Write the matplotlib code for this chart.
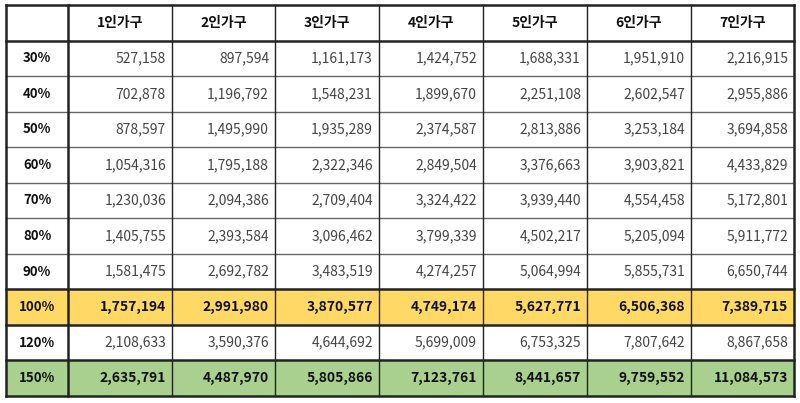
import matplotlib.pyplot as plt
from matplotlib.patches import Rectangle

plt.rcParams['font.family'] = ['Noto Sans CJK KR', 'DejaVu Sans']

# Table data
col_labels = ["1인가구", "2인가구", "3인가구", "4인가구", "5인가구", "6인가구", "7인가구"]
row_labels = ["30%", "40%", "50%", "60%", "70%", "80%", "90%", "100%", "120%", "150%"]
values = [
    [527158, 897594, 1161173, 1424752, 1688331, 1951910, 2216915],
    [702878, 1196792, 1548231, 1899670, 2251108, 2602547, 2955886],
    [878597, 1495990, 1935289, 2374587, 2813886, 3253184, 3694858],
    [1054316, 1795188, 2322346, 2849504, 3376663, 3903821, 4433829],
    [1230036, 2094386, 2709404, 3324422, 3939440, 4554458, 5172801],
    [1405755, 2393584, 3096462, 3799339, 4502217, 5205094, 5911772],
    [1581475, 2692782, 3483519, 4274257, 5064994, 5855731, 6650744],
    [1757194, 2991980, 3870577, 4749174, 5627771, 6506368, 7389715],
    [2108633, 3590376, 4644692, 5699009, 6753325, 7807642, 8867658],
    [2635791, 4487970, 5805866, 7123761, 8441657, 9759552, 11084573],
]
highlight = {"100%": "#FFD966", "150%": "#A9D08E"}

# layout in pixels
x_edges = [6, 68, 172, 275, 379, 483, 587, 691, 794]
top, bottom = 5, 396
n_rows = len(row_labels) + 1
row_h = (bottom - top) / n_rows
y_edges = [top + i * row_h for i in range(n_rows + 1)]

fig = plt.figure(figsize=(8, 4.03), dpi=100)
ax = fig.add_axes([0, 0, 1, 1])
ax.set_xlim(0, 800)
ax.set_ylim(403, 0)
ax.axis('off')

# row backgrounds
for i, lab in enumerate(row_labels):
    if lab in highlight:
        y0 = y_edges[i + 1]
        ax.add_patch(Rectangle((x_edges[0], y0), x_edges[-1] - x_edges[0], row_h,
                               facecolor=highlight[lab], edgecolor='none', zorder=0))

# header
for j, c in enumerate(col_labels):
    xc = (x_edges[j + 1] + x_edges[j + 2]) / 2
    ax.text(xc, (y_edges[0] + y_edges[1]) / 2, c, ha='center', va='center',
            fontsize=10, fontweight='bold', color='#111111')

# body
for i, lab in enumerate(row_labels):
    yc = (y_edges[i + 1] + y_edges[i + 2]) / 2
    bold = lab in highlight
    ax.text((x_edges[0] + x_edges[1]) / 2, yc, lab, ha='center', va='center',
            fontsize=9.5, fontweight='bold', color='#111111')
    for j, v in enumerate(values[i]):
        ax.text(x_edges[j + 2] - 6, yc, f"{v:,}", ha='right', va='center',
                fontsize=10, fontweight='bold' if bold else 'normal',
                color='#111111' if bold else '#444444')

# grid lines
for k, y in enumerate(y_edges):
    lab_above = row_labels[k - 2] if k >= 2 else None
    lab_below = row_labels[k - 1] if 1 <= k <= len(row_labels) else None
    thick = k in (0, 1, n_rows) or lab_above in highlight or lab_below in highlight
    ax.plot([x_edges[0], x_edges[-1]], [y, y], color='#222222' if thick else '#666666',
            lw=1.8 if thick else 1.0, solid_capstyle='projecting', zorder=3)
for k, x in enumerate(x_edges):
    outer = k in (0, len(x_edges) - 1)
    ax.plot([x, x], [y_edges[0], y_edges[-1]], color='#222222',
            lw=1.8 if outer or k == 1 else 1.0, solid_capstyle='projecting', zorder=3)

fig.savefig("out.png", dpi=100, facecolor='white')
